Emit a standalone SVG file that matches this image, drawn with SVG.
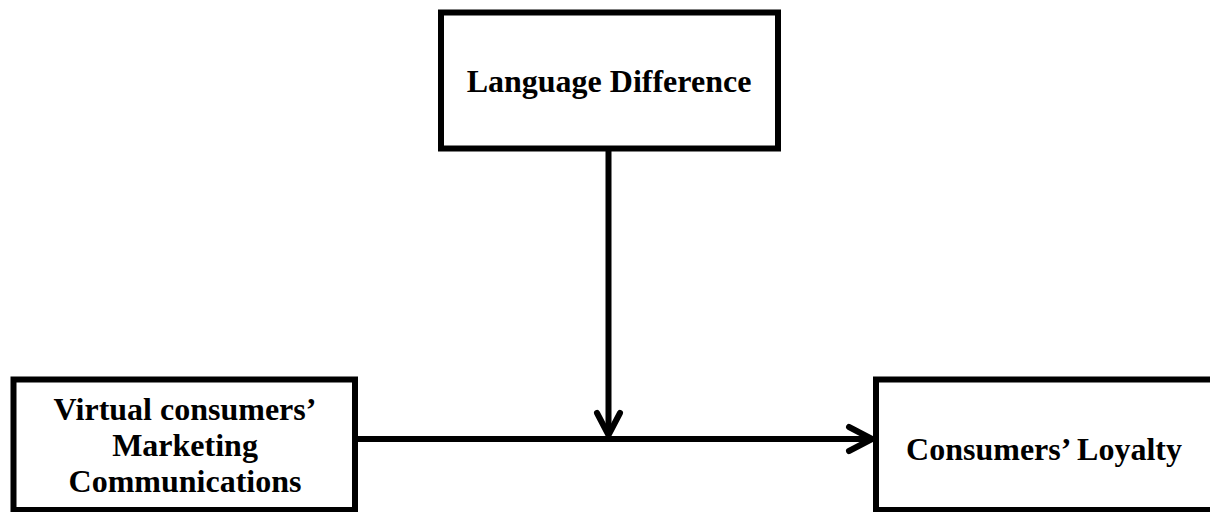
<svg xmlns="http://www.w3.org/2000/svg" width="1210" height="512" viewBox="0 0 1210 512">
  <style>
    .box { fill: #ffffff; stroke: #000000; stroke-width: 6; }
    .label { font-family: "Liberation Serif", "Times New Roman", serif; font-weight: bold; font-size: 32px; fill: #000000; text-anchor: middle; }
    .wire { fill: none; stroke: #000000; stroke-width: 6; }
    .head { fill: none; stroke: #000000; stroke-width: 6; stroke-linecap: round; stroke-linejoin: round; }
  </style>
  <rect width="1210" height="512" fill="#ffffff"/>

  <g id="language-difference">
    <rect class="box" x="441" y="12.5" width="337" height="136"/>
    <text class="label" x="609" y="92">Language Difference</text>
  </g>

  <g id="virtual-consumers-marketing-communications">
    <rect class="box" x="13.5" y="379.5" width="341.5" height="130.5"/>
    <text class="label" x="185" y="420">Virtual consumers’</text>
    <text class="label" x="185" y="456">Marketing</text>
    <text class="label" x="185" y="492">Communications</text>
  </g>

  <g id="consumers-loyalty">
    <rect class="box" x="876" y="379.5" width="360" height="130.5"/>
    <text class="label" x="1044" y="460">Consumers’ Loyalty</text>
  </g>

  <g id="connectors">
    <!-- moderator: Language Difference down onto the main path -->
    <line class="wire" x1="608.5" y1="148" x2="608.5" y2="434"/>
    <polyline class="head" points="597,413 608.5,435 620,413"/>
    <!-- main path: communications to loyalty -->
    <line class="wire" x1="355" y1="439" x2="871" y2="439"/>
    <polyline class="head" points="849,427 872,439 849,451"/>
  </g>
</svg>
